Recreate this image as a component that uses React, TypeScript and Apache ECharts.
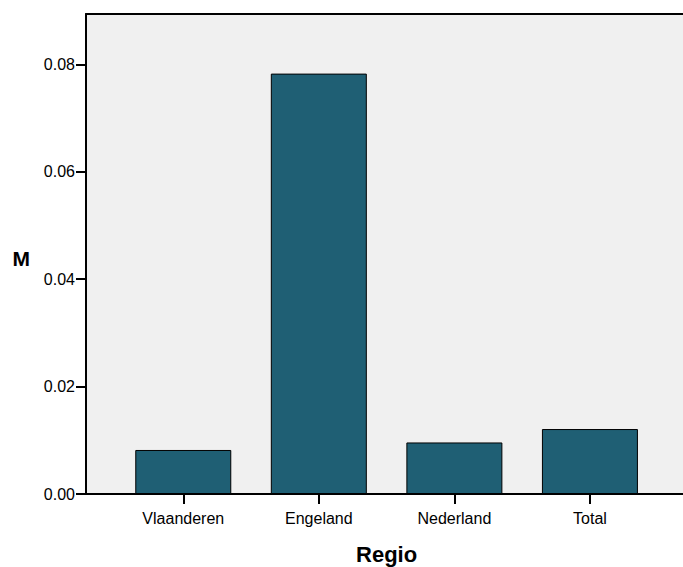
import React, { useEffect, useRef } from "react";
import * as echarts from "echarts";

const categories = ["Vlaanderen", "Engeland", "Nederland", "Total"];
const values = [0.0082, 0.0783, 0.0096, 0.0121];
const yMin = 0;
const yMax = 0.0894;
const yTicks = [0, 0.02, 0.04, 0.06, 0.08];
const xTitle = "Regio";
const yTitle = "M";

const FONT = "'Liberation Sans', Arial, sans-serif";

export default function App() {
  const ref = useRef<HTMLDivElement>(null);
  useEffect(() => {
    if (!ref.current) return;
    const chart = echarts.init(ref.current, undefined, { renderer: "svg" });
    chart.setOption({
      animation: false,
      textStyle: { fontFamily: FONT },
      grid: [
        {
          left: 86,
          right: -4,
          top: 14,
          bottom: 73,
          show: true,
          backgroundColor: "#f0f0f0",
          borderWidth: 0,
          outerBoundsMode: "none",
          containLabel: false,
        },
        { left: 115.5, right: 25.3, top: 14, bottom: 73, outerBoundsMode: "none", containLabel: false },
      ],
      xAxis: [
        {
          type: "value",
          gridIndex: 0,
          position: "bottom",
          axisLine: { show: true, onZero: false, lineStyle: { color: "#000", width: 2 } },
          axisTick: { show: false },
          axisLabel: { show: false },
          splitLine: { show: false },
        },
        {
          type: "category",
          gridIndex: 1,
          data: categories,
          axisLine: { show: false },
          axisTick: { show: true, alignWithLabel: true, length: 10, lineStyle: { color: "#000", width: 2 } },
          axisLabel: { color: "#000", fontSize: 16, margin: 16, fontFamily: FONT },
          name: xTitle,
          nameLocation: "middle",
          nameGap: 49,
          nameTextStyle: { color: "#000", fontSize: 22, fontWeight: "bold", fontFamily: FONT },
        },
        {
          type: "value",
          gridIndex: 0,
          position: "top",
          axisLine: { show: true, onZero: false, lineStyle: { color: "#000", width: 2 } },
          axisTick: { show: false },
          axisLabel: { show: false },
          splitLine: { show: false },
        },
      ],
      yAxis: [
        {
          type: "value",
          gridIndex: 0,
          min: yMin,
          max: yMax,
          axisLine: { show: true, lineStyle: { color: "#000", width: 2 } },
          axisTick: { show: true, length: 10, customValues: yTicks, lineStyle: { color: "#000", width: 2 } },
          axisLabel: {
            color: "#000",
            fontSize: 16,
            margin: 11,
            fontFamily: FONT,
            customValues: yTicks,
            formatter: (v: number) => v.toFixed(2),
          },
          splitLine: { show: false },
          name: yTitle,
          nameLocation: "middle",
          nameRotate: 0,
          nameGap: 56,
          nameTextStyle: {
            color: "#000",
            fontSize: 21,
            fontWeight: "bold",
            fontFamily: FONT,
            verticalAlign: "top",
            lineHeight: 8,
          },
        },
        {
          type: "value",
          gridIndex: 1,
          min: yMin,
          max: yMax,
          show: false,
        },
      ],
      series: [
        {
          type: "bar",
          xAxisIndex: 1,
          yAxisIndex: 1,
          data: values,
          barWidth: 96,
          itemStyle: { color: "#1f5f74", borderColor: "#000", borderWidth: 1 },
        },
      ],
    });
    return () => chart.dispose();
  }, []);
  return (
    <div
      ref={ref}
      style={{ position: "absolute", left: 0, top: 0, width: 683, height: 567, background: "#fff" }}
    />
  );
}
